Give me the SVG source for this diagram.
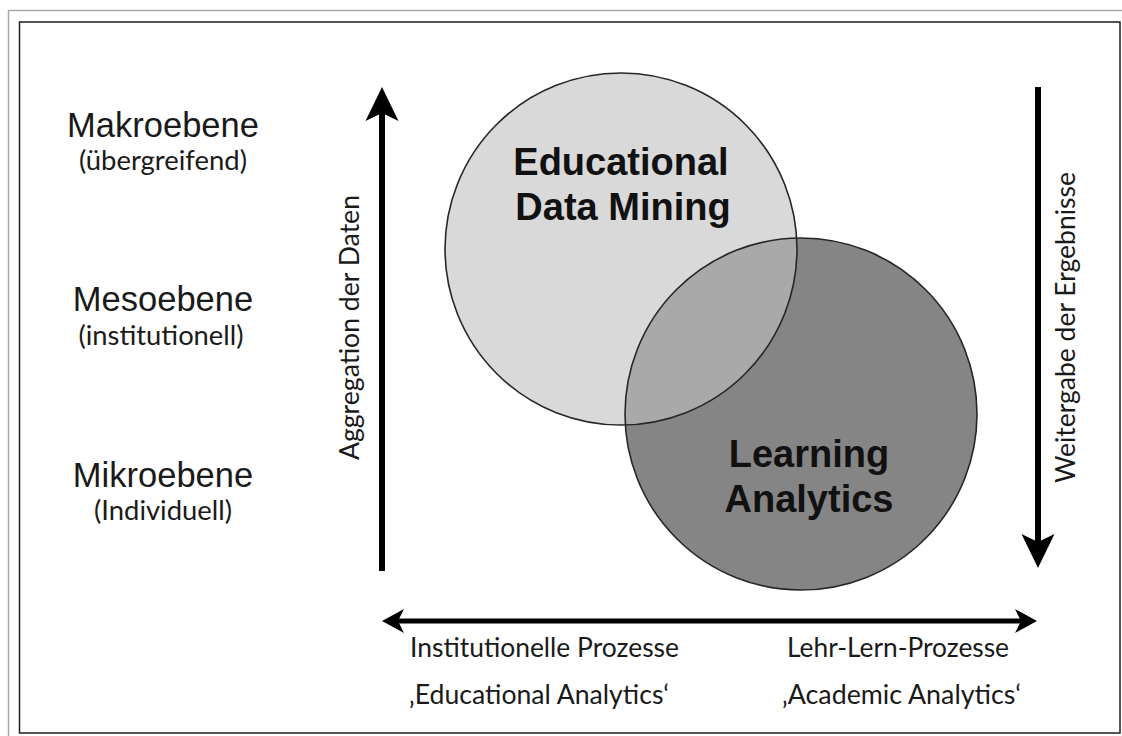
<svg xmlns="http://www.w3.org/2000/svg" width="1122" height="736" viewBox="0 0 1122 736">
  <style>
    .level { font-family: "Liberation Sans", Arial, sans-serif; font-size: 34.5px; fill: #1a1a1a; text-anchor: middle; }
    .note { font-family: Lato, "Open Sans", sans-serif; font-size: 26px; fill: #1a1a1a; }
    .mid { text-anchor: middle; }
    .title { font-family: "Liberation Sans", Arial, sans-serif; font-size: 38px; font-weight: bold; fill: #111; text-anchor: middle; }
    .ring { fill: none; stroke: #262626; stroke-width: 1.6; }
    .shaft { stroke: #000; fill: none; }
    .head { fill: #000; }
  </style>
  <defs>
    <!-- barbed head, origin sits at the end of the shaft -->
    <marker id="headBig" markerUnits="userSpaceOnUse" markerWidth="60" markerHeight="60" refX="0" refY="0" orient="auto" overflow="visible">
      <path class="head" d="M 24 0 L -10 -16.5 L -2 0 L -10 16.5 Z"/>
    </marker>
    <marker id="headSmall" markerUnits="userSpaceOnUse" markerWidth="40" markerHeight="40" refX="0" refY="0" orient="auto-start-reverse" overflow="visible">
      <path class="head" d="M 14 0 L -8 -12 L -2 0 L -8 12 Z"/>
    </marker>
    <clipPath id="clipLA">
      <circle cx="801" cy="414" r="176"/>
    </clipPath>
  </defs>

  <rect x="0" y="0" width="1122" height="736" fill="#fff"/>

  <!-- frame -->
  <g id="frame">
    <rect x="8.5" y="10.5" width="1125" height="740" fill="none" stroke="#a8a8a8" stroke-width="1.5"/>
    <rect x="19.5" y="22" width="1100.5" height="711" fill="#fff" stroke="#1e1e1e" stroke-width="1.5"/>
  </g>

  <!-- level labels -->
  <g id="level-makro">
    <text class="level" x="163" y="137">Makroebene</text>
    <text class="note mid" x="163" y="170" textLength="168" lengthAdjust="spacingAndGlyphs">(übergreifend)</text>
  </g>
  <g id="level-meso">
    <text class="level" x="163" y="311">Mesoebene</text>
    <text class="note mid" x="161" y="345" textLength="165" lengthAdjust="spacingAndGlyphs">(institutionell)</text>
  </g>
  <g id="level-mikro">
    <text class="level" x="163" y="487">Mikroebene</text>
    <text class="note mid" x="163" y="520" textLength="138" lengthAdjust="spacingAndGlyphs">(Individuell)</text>
  </g>

  <!-- overlapping circles -->
  <g id="node-la">
    <circle cx="801" cy="414" r="176" fill="#858585"/>
  </g>
  <g id="node-edm">
    <circle cx="621" cy="249" r="176" fill="#d9d9d9"/>
    <circle cx="621" cy="249" r="176" fill="#a9a9a9" clip-path="url(#clipLA)"/>
    <circle class="ring" cx="621" cy="249" r="176"/>
    <text class="title" x="621" y="175">Educational</text>
    <text class="title" x="623" y="220">Data Mining</text>
  </g>
  <g id="node-la-outline">
    <circle class="ring" cx="801" cy="414" r="176"/>
    <text class="title" x="809" y="467">Learning</text>
    <text class="title" x="809" y="512">Analytics</text>
  </g>

  <!-- connectors -->
  <g id="connectors">
    <line class="shaft" x1="382" y1="571" x2="382" y2="111" stroke-width="6" marker-end="url(#headBig)"/>
    <line class="shaft" x1="1038" y1="87" x2="1038" y2="544" stroke-width="6" marker-end="url(#headBig)"/>
    <line class="shaft" x1="396" y1="621" x2="1023" y2="621" stroke-width="5" marker-start="url(#headSmall)" marker-end="url(#headSmall)"/>
  </g>

  <!-- axis labels -->
  <g id="axis-labels">
    <text class="note mid" transform="translate(359 327.5) rotate(-90)" textLength="265" lengthAdjust="spacingAndGlyphs">Aggregation der Daten</text>
    <text class="note mid" transform="translate(1075 327.5) rotate(-90)" textLength="311" lengthAdjust="spacingAndGlyphs">Weitergabe der Ergebnisse</text>
    <text class="note" x="410" y="657" textLength="269" lengthAdjust="spacingAndGlyphs">Institutionelle Prozesse</text>
    <text class="note" x="409" y="704" textLength="260" lengthAdjust="spacingAndGlyphs">‚Educational Analytics‘</text>
    <text class="note" x="787" y="657" textLength="222" lengthAdjust="spacingAndGlyphs">Lehr-Lern-Prozesse</text>
    <text class="note" x="782" y="704" textLength="239" lengthAdjust="spacingAndGlyphs">‚Academic Analytics‘</text>
  </g>
</svg>
